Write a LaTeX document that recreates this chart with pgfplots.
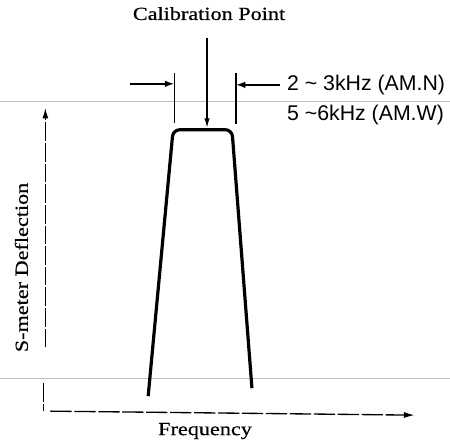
\documentclass[border=0pt]{standalone}
\usepackage{pgfplots}
\pgfplotsset{compat=1.18}
\usetikzlibrary{arrows.meta}
\usepackage{fontspec}
\setmainfont{Liberation Serif}
\newfontfamily\widefont[FakeStretch=1.2,FakeBold=0.6]{Liberation Serif}
\newfontfamily\labelfont{Liberation Sans}
\begin{document}
\begin{tikzpicture}
\begin{axis}[
  scale only axis, width=337.5pt, height=328.5pt,
  xmin=0, xmax=450, ymin=0, ymax=438, y dir=reverse,
  hide axis, clip=false,
]
% reference gray lines
\addplot[gray!50, line width=0.7pt] coordinates {(0,102) (450,102)};
\addplot[gray!50, line width=0.7pt] coordinates {(0,379) (450,379)};
% passband shape
\addplot[black, line width=2.4pt, rounded corners=5pt] coordinates {(148,397) (173,130) (232,130) (252,389)};
% bandwidth ticks
\addplot[black, line width=0.9pt] coordinates {(174,73) (174,123)};
\addplot[black, line width=0.9pt] coordinates {(236,73) (236,124)};
% bandwidth arrows
\addplot[black, line width=1.1pt, -{Latex[length=7pt,width=5pt]}] coordinates {(130,84) (174,84)};
\addplot[black, line width=1.1pt, -{Latex[length=7pt,width=5pt]}] coordinates {(280,85) (236,85)};
% calibration arrow
\addplot[black, line width=0.9pt, -{Latex[length=7pt,width=4pt]}] coordinates {(207,38) (207,128)};
% axes
\addplot[black, line width=1.0pt, dash pattern=on 14pt off 1.5pt, -{Latex[length=8pt,width=4.5pt]}] coordinates {(45,348) (45,108)};
\addplot[black, line width=1.0pt, dash pattern=on 14pt off 1.5pt] coordinates {(43,384) (43,412)};
\addplot[black, line width=1.0pt, dash pattern=on 16pt off 2pt, -{Latex[length=8pt,width=4.5pt]}] coordinates {(50,412) (415,416)};
% texts
\node[anchor=base, font=\widefont\fontsize{13.9pt}{16pt}\selectfont] at (axis cs:209,20) {Calibration Point};
\node[anchor=base, font=\widefont\fontsize{13.9pt}{16pt}\selectfont] at (axis cs:205,436) {Frequency};
\node[rotate=90, font=\widefont\fontsize{13.9pt}{16pt}\selectfont] at (axis cs:21,268) {S-meter Deflection};
\node[anchor=base west, font=\labelfont\fontsize{16pt}{18pt}\selectfont, inner sep=0pt] at (axis cs:287,91) {2 \textasciitilde{} 3kHz (AM.N)};
\node[anchor=base west, font=\labelfont\fontsize{16pt}{18pt}\selectfont, inner sep=0pt] at (axis cs:287,121) {5 \textasciitilde{}6kHz (AM.W)};
\path (axis cs:0,0) rectangle (axis cs:450,438);
\end{axis}
\end{tikzpicture}
\end{document}
